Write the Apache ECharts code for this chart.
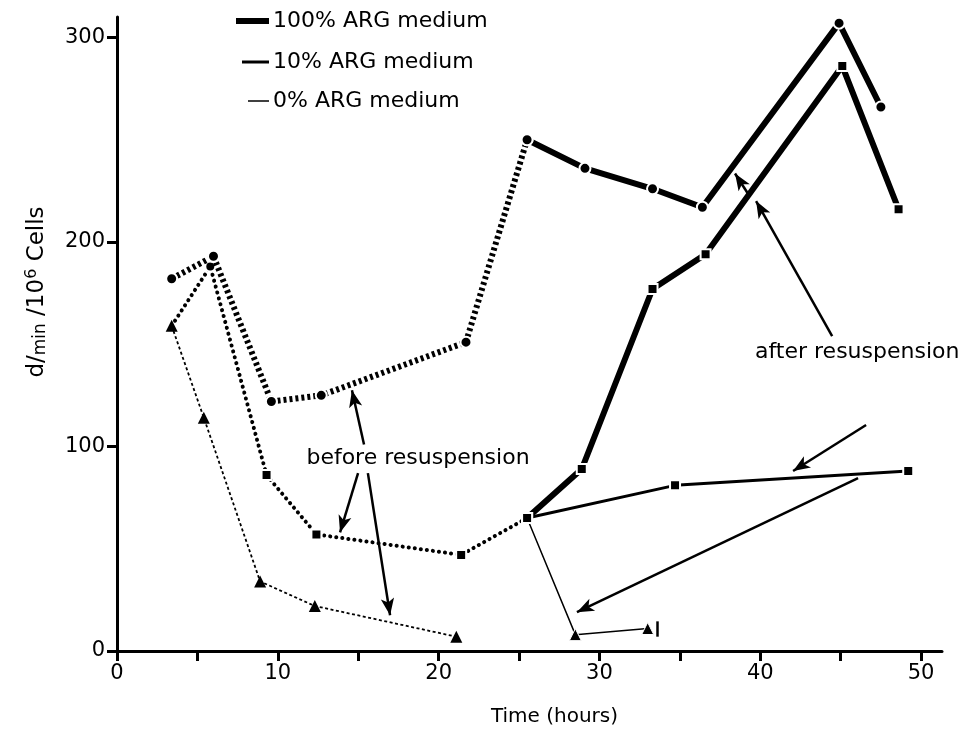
<!DOCTYPE html>
<html>
<head>
<meta charset="utf-8">
<script src="https://cdn.jsdelivr.net/npm/echarts@6/dist/echarts.min.js"></script>
<style>html,body{margin:0;padding:0;background:#fff}#c{width:963px;height:737px}</style>
</head>
<body>
<div id="c"></div>
<script>
// ---- data (hours, d/min per 10^6 cells) ----
const arg100Before = [[3.4,182],[6.0,193],[9.6,122],[12.7,125],[21.7,151],[25.5,250]];
const arg100After  = [[25.5,250],[29.1,236],[33.3,226],[36.4,217],[44.9,307],[47.5,266]];
const arg10Before  = [[3.4,159],[5.8,188],[9.3,86],[12.4,57],[21.4,47],[25.5,65]];
const arg10After   = [[25.5,65],[34.7,81],[49.2,88]];
const arg0Before   = [[3.4,159],[5.4,114],[8.9,34],[12.3,22],[21.1,7]];
const arg0After    = [[25.5,65],[28.5,8],[33.0,11]];
const arg100Resusp = [[25.5,65],[28.9,89],[33.3,177],[36.6,194],[45.1,286],[48.6,216]];
const errorBar     = [[33.6,7],[33.6,14.5]];
// annotation arrows: [tail, head] in data units
const arrows = [
  [[15.36,101],[14.61,127.5]],
  [[14.99,87],[13.87,58]],
  [[15.6,87],[16.98,17.5]],
  [[39.37,222],[38.43,233.5]],
  [[44.47,154],[39.74,220]],
  [[46.58,110.5],[42.04,88]],
  [[46.08,84.5],[28.6,19]]
];
const xTicks  = [0,5,10,15,20,25,30,35,40,45,50];
const xLabels = [0,10,20,30,40,50];
const yTicks  = [0,100,200,300];
const legendNames = ['100% ARG medium','10% ARG medium','0% ARG medium'];

const FONT = 'DejaVu Sans';
const chart = echarts.init(document.getElementById('c'), null, {renderer:'canvas'});

function pts(arr, symbolOverride){
  return arr.map((p,i)=>{
    const o = {value:p};
    if (symbolOverride && symbolOverride[i]) o.symbol = symbolOverride[i];
    return o;
  });
}
const mk = {color:'#000', borderColor:'#fff', borderWidth:2};

const option = {
  animation:false,
  backgroundColor:'#fff',
  grid:{left:117, right:21, top:17, bottom:86},
  xAxis:{
    type:'value', min:0, max:51.3, interval:5,
    axisLine:{lineStyle:{color:'#000', width:3}},
    axisTick:{length:10, lineStyle:{color:'#000', width:3}, customValues:xTicks},
    axisLabel:{customValues:xLabels, color:'#000', fontSize:21, fontFamily:FONT, margin:12},
    splitLine:{show:false},
    name:'Time (hours)', nameLocation:'middle', nameGap:56,
    nameTextStyle:{color:'#000', fontSize:20, fontFamily:FONT, padding:[0,0,0,50]}
  },
  yAxis:{
    type:'value', min:0, max:310, interval:100,
    axisLine:{lineStyle:{color:'#000', width:3}},
    axisTick:{length:10, lineStyle:{color:'#000', width:3}, customValues:yTicks},
    axisLabel:{customValues:yTicks, color:'#000', fontSize:21, fontFamily:FONT, margin:12},
    splitLine:{show:false}
  },
  series:[
    {name:legendNames[0], type:'line', data:arg100Before, symbol:'circle', symbolSize:11, itemStyle:mk,
     lineStyle:{color:'#000', width:6, type:[3,3], cap:'butt'}, z:5},
    {name:legendNames[0], type:'line', data:arg100After, symbol:'circle', symbolSize:11, itemStyle:mk,
     lineStyle:{color:'#000', width:6}, z:5},
    {name:legendNames[1], type:'line', data:pts(arg10Before,['none','circle']), symbol:'rect', symbolSize:10, itemStyle:mk,
     lineStyle:{color:'#000', width:4, type:[0.1,6], cap:'round'}, z:4},
    {name:legendNames[1], type:'line', data:arg10After, symbol:'rect', symbolSize:10, itemStyle:mk,
     lineStyle:{color:'#000', width:3}, z:4},
    {name:legendNames[0], type:'line', data:arg100Resusp, symbol:'rect', symbolSize:10, itemStyle:mk,
     lineStyle:{color:'#000', width:6}, z:4},
    {name:legendNames[2], type:'line', data:arg0Before, symbol:'triangle', symbolSize:12, itemStyle:{color:'#000'},
     lineStyle:{color:'#000', width:1.8, type:[3,2.5]}, z:3},
    {name:legendNames[2], type:'line', data:pts(arg0After,['none']), symbol:'triangle', symbolSize:12, itemStyle:{color:'#000', borderColor:'#fff', borderWidth:1},
     lineStyle:{color:'#000', width:1.5}, z:3,
     markLine:{
       silent:true, animation:false, symbol:['none','none'],
       label:{show:false}, lineStyle:{color:'#000', width:2.5, type:'solid'},
       data:[[{coord:errorBar[0]},{coord:errorBar[1]}]]
     }},
    {name:'annotations', type:'line', data:[], z:6,
     markLine:{
       silent:true, animation:false, symbol:['none','arrow'], symbolSize:[10,17],
       label:{show:false}, lineStyle:{color:'#000', width:2.5, type:'solid'},
       data:arrows.map(a=>[{coord:a[0]},{coord:a[1]}])
     }}
  ],
  graphic:[
    {type:'line', shape:{x1:236,y1:21,x2:269,y2:21}, style:{stroke:'#000', lineWidth:6}},
    {type:'text', x:273, y:21, style:{text:legendNames[0], font:'22px "DejaVu Sans"', fill:'#000', verticalAlign:'middle'}},
    {type:'line', shape:{x1:242,y1:62,x2:269,y2:62}, style:{stroke:'#000', lineWidth:3}},
    {type:'text', x:273, y:62, style:{text:legendNames[1], font:'22px "DejaVu Sans"', fill:'#000', verticalAlign:'middle'}},
    {type:'line', shape:{x1:248,y1:101,x2:269,y2:101}, style:{stroke:'#000', lineWidth:1.5}},
    {type:'text', x:273, y:101, style:{text:legendNames[2], font:'22px "DejaVu Sans"', fill:'#000', verticalAlign:'middle'}},
    {type:'text', x:418, y:458, style:{text:'before resuspension', font:'22px "DejaVu Sans"', fill:'#000', align:'center', verticalAlign:'middle'}},
    {type:'text', x:755, y:352, style:{text:'after resuspension', font:'22px "DejaVu Sans"', fill:'#000', align:'left', verticalAlign:'middle'}},
    {type:'text', x:37, y:292, rotation:Math.PI/2,
     style:{text:'d/{s|min} /10{p|6} Cells', fill:'#000', align:'center', verticalAlign:'middle',
       font:'23px "DejaVu Sans"',
       rich:{s:{fontSize:17, fontFamily:FONT, padding:[8,0,0,0]}, p:{fontSize:16, fontFamily:FONT, padding:[0,0,10,0]}}}}
  ]
};
chart.setOption(option);
</script>
</body>
</html>
